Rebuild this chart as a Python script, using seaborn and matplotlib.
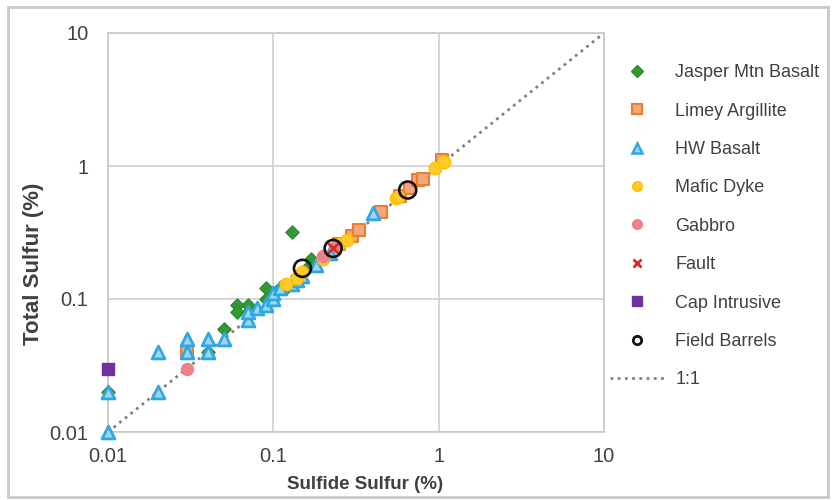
import matplotlib
matplotlib.use("Agg")
import matplotlib.pyplot as plt
import seaborn as sns
import numpy as np
from matplotlib.lines import Line2D
from matplotlib.patches import Rectangle
from matplotlib.ticker import FixedLocator, FixedFormatter, NullLocator

sns.set_theme(style="white")
plt.rcParams['font.family'] = ['Liberation Sans', 'DejaVu Sans']

# ---- data ----
jasper_x = [0.01, 0.04, 0.05, 0.06, 0.06, 0.07, 0.07, 0.09, 0.09, 0.10, 0.11, 0.12, 0.13, 0.14, 0.16, 0.17]
jasper_y = [0.02, 0.04, 0.06, 0.09, 0.08, 0.09, 0.08, 0.12, 0.10, 0.10, 0.12, 0.12, 0.32, 0.15, 0.17, 0.20]

limey_x = [0.03, 0.25, 0.30, 0.33, 0.45, 0.58, 0.67, 0.75, 0.80, 1.05]
limey_y = [0.04, 0.26, 0.30, 0.33, 0.45, 0.60, 0.68, 0.78, 0.80, 1.10]

hw_x = [0.01, 0.01, 0.02, 0.02, 0.03, 0.03, 0.04, 0.04, 0.05, 0.07, 0.07, 0.08, 0.09, 0.10, 0.10,
        0.11, 0.13, 0.14, 0.15, 0.18, 0.22, 0.40]
hw_y = [0.01, 0.02, 0.02, 0.04, 0.05, 0.04, 0.05, 0.04, 0.05, 0.07, 0.08, 0.085, 0.09, 0.10, 0.11,
        0.12, 0.13, 0.14, 0.15, 0.18, 0.22, 0.44]

mafic_x = [0.12, 0.14, 0.15, 0.20, 0.25, 0.28, 0.55, 0.57, 0.95, 1.07]
mafic_y = [0.13, 0.145, 0.16, 0.20, 0.26, 0.28, 0.57, 0.58, 0.96, 1.07]

gabbro_x = [0.03, 0.20, 0.24]
gabbro_y = [0.03, 0.21, 0.25]

fault_x = [0.23]
fault_y = [0.24]

cap_x = [0.01]
cap_y = [0.03]

barrel_x = [0.15, 0.23, 0.65]
barrel_y = [0.17, 0.24, 0.66]

ticks = [0.01, 0.1, 1, 10]
tick_labels = ["0.01", "0.1", "1", "10"]

# ---- figure ----
fig = plt.figure(figsize=(8.32, 5.0), dpi=100)
ax = fig.add_axes([108 / 832, 1 - 432 / 500, (604 - 108) / 832, (432 - 33) / 500])

series = [
    ("Jasper Mtn Basalt", jasper_x, jasper_y, dict(marker="D", s=45, color="#339933", edgecolor="#2E8B2E", linewidth=1)),
    ("Limey Argillite", limey_x, limey_y, dict(marker="s", s=70, color="#F4A77A", edgecolor="#ED7D31", linewidth=1.5)),
    ("HW Basalt", hw_x, hw_y, dict(marker="^", s=85, color="#9ED6F2", edgecolor="#2FA8E0", linewidth=2)),
    ("Mafic Dyke", mafic_x, mafic_y, dict(marker="o", s=80, color="#FFCA2C", edgecolor="#FFC000", linewidth=1)),
    ("Gabbro", gabbro_x, gabbro_y, dict(marker="o", s=75, color="#F08088", edgecolor="#F08088", linewidth=1)),
    ("Fault", fault_x, fault_y, dict(marker="x", s=60, color="#D42A2A", linewidth=2)),
    ("Cap Intrusive", cap_x, cap_y, dict(marker="s", s=75, color="#7030A0", edgecolor="#7030A0", linewidth=1)),
    ("Field Barrels", barrel_x, barrel_y, dict(marker="o", s=150, facecolor="none", edgecolor="#111111", linewidth=1.9)),
]

ax.plot([ticks[0], ticks[-1]], [ticks[0], ticks[-1]], linestyle=(0, (1, 1.6)), color="#808080",
        linewidth=2, zorder=1)

for i, (label, xs, ys, kw) in enumerate(series):
    sns.scatterplot(x=xs, y=ys, ax=ax, zorder=3 + i, legend=False, clip_on=False, **kw)

ax.set_xscale("log")
ax.set_yscale("log")
ax.set_xlim(0.01, 10)
ax.set_ylim(0.01, 10)
ax.xaxis.set_major_locator(FixedLocator(ticks))
ax.xaxis.set_major_formatter(FixedFormatter(tick_labels))
ax.yaxis.set_major_locator(FixedLocator(ticks))
ax.yaxis.set_major_formatter(FixedFormatter(tick_labels))
ax.xaxis.set_minor_locator(NullLocator())
ax.yaxis.set_minor_locator(NullLocator())
ax.tick_params(axis="both", which="both", length=0, labelsize=14.5, colors="#404040")
ax.tick_params(axis="x", pad=11)
ax.tick_params(axis="y", pad=14)
ax.grid(True, which="major", color="#D0D0D0", linewidth=1.2)
for sp in ax.spines.values():
    sp.set_color("#C8C8C8")
    sp.set_linewidth(1.2)

ax.set_xlabel("Sulfide Sulfur (%)", fontsize=13.5, fontweight="bold", color="#404040")
ax.set_ylabel("Total Sulfur (%)", fontsize=16, fontweight="bold", color="#404040")
ax.xaxis.set_label_coords((365 - 108) / 496, -(476 - 432) / 399)
ax.yaxis.set_label_coords((44 - 108) / 496, (432 - 264) / 399)

# legend
handles = [
    Line2D([], [], linestyle="none", marker="D", markersize=6, markerfacecolor="#339933", markeredgecolor="#2E8B2E"),
    Line2D([], [], linestyle="none", marker="s", markersize=7, markerfacecolor="#F4A77A", markeredgecolor="#ED7D31", markeredgewidth=1.5),
    Line2D([], [], linestyle="none", marker="^", markersize=7, markerfacecolor="#9ED6F2", markeredgecolor="#2FA8E0", markeredgewidth=1.8),
    Line2D([], [], linestyle="none", marker="o", markersize=7, markerfacecolor="#FFCA2C", markeredgecolor="#FFC000"),
    Line2D([], [], linestyle="none", marker="o", markersize=7, markerfacecolor="#F08088", markeredgecolor="#F08088"),
    Line2D([], [], linestyle="none", marker="x", markersize=6, color="#D42A2A", markeredgewidth=2),
    Line2D([], [], linestyle="none", marker="s", markersize=7, markerfacecolor="#7030A0", markeredgecolor="#7030A0"),
    Line2D([], [], linestyle="none", marker="o", markersize=6, markerfacecolor="none", markeredgecolor="#111111", markeredgewidth=2),
    Line2D([], [], linestyle=(0, (1, 1.6)), color="#808080", linewidth=2),
]
labels = [s[0] for s in series] + ["1:1"]
leg = fig.legend(handles, labels, loc="upper left", bbox_to_anchor=(603 / 832, 1 - 57 / 500),
                 frameon=False, fontsize=13, labelspacing=1.185, handlelength=3.0,
                 handletextpad=0.6, borderaxespad=0)
for t in leg.get_texts():
    t.set_color("#404040")

# outer chart border
fig.patches.append(Rectangle((8 / 832, 3 / 500), 820 / 832, 490 / 500, transform=fig.transFigure,
                             fill=False, edgecolor="#C8C8C8", linewidth=2, zorder=0))

fig.savefig("out.png", dpi=100)
